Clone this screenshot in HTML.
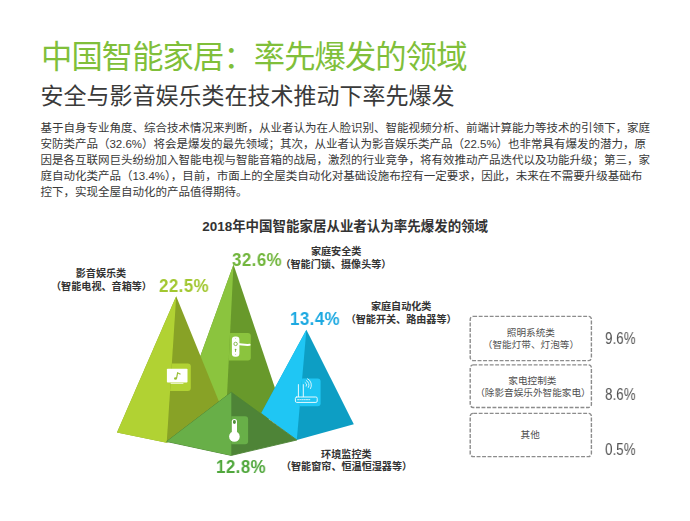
<!DOCTYPE html>
<html lang="zh-CN">
<head>
<meta charset="utf-8">
<title>中国智能家居：率先爆发的领域</title>
<style>
html,body{margin:0;padding:0;background:#fff}
body{width:690px;height:521px;position:relative;overflow:hidden;font-family:"Liberation Sans","Noto Sans CJK SC",sans-serif}
svg{position:absolute;left:0;top:0}
/* real text layer */
.t{position:absolute;margin:0;padding:0;color:#333;white-space:nowrap;font-weight:normal;font-family:"Liberation Sans","Noto Sans CJK SC",sans-serif}
.title{color:#80bf3a}
.sub{color:#3a3a3a}
.para{white-space:nowrap;color:#383838}
.ctitle{color:#333}
.lab{color:#333}
.lab.g{color:#505050}
.pct{position:absolute;font:bold 19.2px/1 "Liberation Sans",sans-serif;letter-spacing:0.5px;white-space:nowrap;transform:scaleX(0.88);transform-origin:0 0;will-change:transform}
.pc2{position:absolute;font:15.6px/1 "Liberation Sans",sans-serif;letter-spacing:0px;color:#555;white-space:nowrap;transform:scaleX(0.862);transform-origin:0 0;will-change:transform}
</style>
</head>
<body>
<svg id="chart" width="690" height="521" viewBox="0 0 690 521">
<defs>
<clipPath id="c1"><polygon points="176.2,296.2 166.7,442.5 228.5,425"/></clipPath>
<clipPath id="c2"><polygon points="233.5,264.5 224.8,440 283,412"/></clipPath>
<clipPath id="c3"><polygon points="306.4,329.7 296.8,440 353.8,424.3"/></clipPath>
<clipPath id="c4"><polygon points="231.3,392.3 231.3,455.4 296.8,440"/></clipPath>
</defs>
<!-- pyramid 2 (32.6%) -->
<polygon points="233.5,264.5 177.2,420 224.8,440 283,412" fill="#68992b"/>
<polygon points="233.5,264.5 177.2,420 224.8,440" fill="#8bc43e"/>
<rect x="223" y="333" width="27.8" height="27.6" rx="3" fill="#8bc43e" clip-path="url(#c2)"/>
<g id="ico-handle">
<path d="M237.2 344.1 C241 344 244.5 345.3 249.6 344.8" fill="none" stroke="#fff" stroke-width="2" stroke-linecap="round"/>
<rect x="231.9" y="336.4" width="7.5" height="20.4" rx="3.2" fill="#fff"/>
<circle cx="235.6" cy="343.9" r="1.7" fill="none" stroke="#7db342" stroke-width=".9"/>
<circle cx="235.6" cy="349.6" r=".9" fill="#7db342"/>
<rect x="235.2" y="349.6" width=".8" height="2.4" fill="#7db342"/>
<circle cx="235.6" cy="338.6" r=".5" fill="#b9d99a"/>
<circle cx="235.6" cy="354.6" r=".5" fill="#b9d99a"/>
</g>
<!-- pyramid 3 (13.4%) -->
<polygon points="306.4,329.7 261.3,413 296.8,440 353.8,424.3" fill="#0d9ec4"/>
<polygon points="306.4,329.7 261.3,413 296.8,440" fill="#1fc6f4"/>
<rect x="292.6" y="378.4" width="28" height="27.8" rx="3" fill="#1fc6f4" clip-path="url(#c3)"/>
<g id="ico-router" fill="none" stroke="#fff" stroke-linecap="round" opacity=".9">
<rect x="295.4" y="397" width="21.8" height="5.4" rx="1.3" stroke-width="1"/>
<path d="M297.6 399.7H310.6" stroke-width=".9" stroke-dasharray="1.2 1"/>
<path d="M298.4 384.6V396.6M303.3 384.6V396.6" stroke-width="1"/>
<path d="M305.2 382.5A2.6 2.6 0 0 1 306.3 386.2M306.4 380.6A4.8 4.8 0 0 1 308.4 387.4M307.6 378.7A7 7 0 0 1 310.5 388.6" stroke-width=".9"/>
</g>
<!-- pyramid 1 (22.5%) -->
<polygon points="176.2,296.2 117,432.6 166.7,442.8 228.5,425" fill="#88a226"/>
<polygon points="176.2,296.2 117,432.6 166.7,442.8" fill="#b1d233"/>
<rect x="163.2" y="363.4" width="27.6" height="27.6" rx="3" fill="#b1d233" clip-path="url(#c1)"/>
<g id="ico-tv">
<rect x="166.9" y="368.7" width="20.6" height="13.8" rx=".8" fill="#fff"/>
<rect x="170.6" y="382.9" width="12.8" height=".9" fill="#fff" opacity=".85"/>
<ellipse cx="175.5" cy="378.5" rx="1.5" ry="1.2" fill="#97bd33"/>
<path d="M176.5 378.5L177.6 372.8L180.5 374.3" fill="none" stroke="#97bd33" stroke-width="1.2"/>
</g>
<!-- pyramid 4 (12.8%) -->
<polygon points="231.3,392.3 166.7,441.5 231.3,455.4 296.8,440" fill="#4e8437" stroke="#4e8437" stroke-width=".9" stroke-linejoin="round"/>
<polygon points="231.3,392.3 166.7,441.5 231.3,455.4" fill="#68af48"/>
<rect x="220.3" y="416.2" width="27.8" height="28" rx="3" fill="#68af48" clip-path="url(#c4)"/>
<g id="ico-thermo">
<circle cx="234.4" cy="436.5" r="5.3" fill="#fff"/>
<rect x="231.8" y="419" width="5.2" height="16" rx="2.6" fill="#fff"/>
<rect x="233" y="420.1" width="2.8" height="3.8" rx="1.4" fill="#4f8f3a"/>
</g>
<!-- dashed boxes -->
<g fill="none" stroke="#8c8c8c" stroke-width="1.4" stroke-dasharray="3.9 1.6">
<rect x="470.2" y="316.4" width="121.2" height="44.2" rx="3"/>
<rect x="470.2" y="364.9" width="121.2" height="42.6" rx="3"/>
<rect x="470.2" y="413.4" width="121.2" height="43.2" rx="3"/>
</g>

</svg>
<h1 class="t title" style="left:41.0px;top:38.3px;width:430.5px;font-size:31.3px;line-height:40.7px;letter-spacing:-0.9px">中国智能家居：率先爆发的领域</h1>
<h2 class="t sub" style="left:40.6px;top:82.3px;width:415.0px;font-size:23px;line-height:29.9px">安全与影音娱乐类在技术推动下率先爆发</h2>
<p class="t para" style="left:40.4px;top:121.3px;width:610.5px;font-size:11.5px;line-height:15.85px">基于自身专业角度、综合技术情况来判断，从业者认为在人脸识别、智能视频分析、前端计算能力等技术的引领下，家庭<br>安防类产品（32.6%）将会是爆发的最先领域；其次，从业者认为影音娱乐类产品（22.5%）也非常具有爆发的潜力，原<br>因是各互联网巨头纷纷加入智能电视与智能音箱的战局，激烈的行业竞争，将有效推动产品迭代以及功能升级；第三，家<br>庭自动化类产品（13.4%），目前，市面上的全屋类自动化对基础设施布控有一定要求，因此，未来在不需要升级基础布<br>控下，实现全屋自动化的产品值得期待。</p>
<h3 class="t ctitle" style="left:202.2px;top:218.3px;width:287.9px;font-size:13.48px;line-height:17.5px;font-weight:bold">2018年中国智能家居从业者认为率先爆发的领域</h3>
<div class="t lab" style="left:75.2px;top:266.6px;width:51.5px;font-size:10.1px;line-height:13.1px;font-weight:bold;text-align:center">影音娱乐类</div>
<div class="t lab" style="left:50.5px;top:279.6px;width:102.0px;font-size:10.1px;line-height:13.1px;font-weight:bold;text-align:center">（智能电视、音箱等）</div>
<div class="t lab" style="left:310.4px;top:245.4px;width:51.5px;font-size:10.1px;line-height:13.1px;font-weight:bold;text-align:center">家庭安全类</div>
<div class="t lab" style="left:279.9px;top:258.2px;width:112.1px;font-size:10.1px;line-height:13.1px;font-weight:bold;text-align:center">（智能门锁、摄像头等）</div>
<div class="t lab" style="left:370.4px;top:300.4px;width:61.6px;font-size:10.1px;line-height:13.1px;font-weight:bold;text-align:center">家庭自动化类</div>
<div class="t lab" style="left:345.1px;top:313.2px;width:112.1px;font-size:10.1px;line-height:13.1px;font-weight:bold;text-align:center">（智能开关、路由器等）</div>
<div class="t lab" style="left:320.6px;top:447.5px;width:51.5px;font-size:10.1px;line-height:13.1px;font-weight:bold;text-align:center">环境监控类</div>
<div class="t lab" style="left:280.4px;top:459.7px;width:132.3px;font-size:10.1px;line-height:13.1px;font-weight:bold;text-align:center">（智能窗帘、恒温恒湿器等）</div>
<div class="t lab g" style="left:506.3px;top:327.0px;width:49.2px;font-size:9.65px;line-height:12.5px;text-align:center">照明系统类</div>
<div class="t lab g" style="left:482.2px;top:338.6px;width:97.5px;font-size:9.65px;line-height:12.5px;text-align:center">（智能灯带、灯泡等）</div>
<div class="t lab g" style="left:507.8px;top:375.1px;width:49.2px;font-size:9.65px;line-height:12.5px;text-align:center">家电控制类</div>
<div class="t lab g" style="left:474.6px;top:387.1px;width:116.8px;font-size:9.65px;line-height:12.5px;text-align:center">（除影音娱乐外智能家电）</div>
<div class="t lab g" style="left:520.1px;top:428.5px;width:20.3px;font-size:9.65px;line-height:12.5px;text-align:center">其他</div>
<div class="pct" style="left:158.7px;top:276.1px;color:#a2c730">22.5%</div>
<div class="pct" style="left:231.5px;top:250.4px;color:#72b63d">32.6%</div>
<div class="pct" style="left:290.0px;top:309.3px;color:#1da9e1">13.4%</div>
<div class="pct" style="left:216.3px;top:456.7px;color:#50a73c">12.8%</div>
<div class="pc2" style="left:604.5px;top:331.0px">9.6%</div>
<div class="pc2" style="left:604.5px;top:387.0px">8.6%</div>
<div class="pc2" style="left:604.5px;top:442.0px">0.5%</div>

</body>
</html>
